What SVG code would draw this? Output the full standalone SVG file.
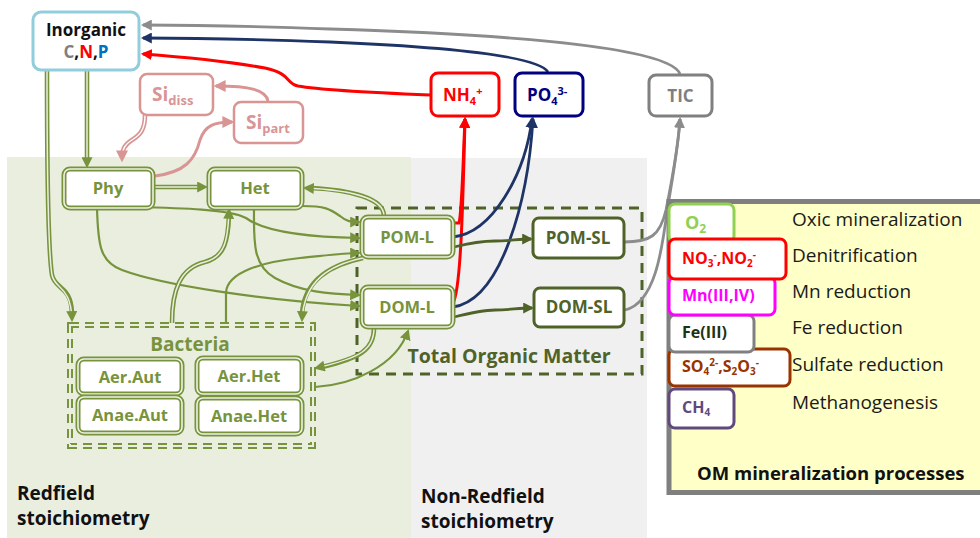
<svg xmlns="http://www.w3.org/2000/svg" width="980" height="538" viewBox="0 0 980 538">
<defs>
<style>
text{font-family:"Open Sans","DejaVu Sans",sans-serif}
.b{font-weight:bold}
.gt{fill:#77933c;font-weight:bold;font-size:16.5px;text-anchor:middle}
.dt{fill:#4f6228;font-weight:bold;font-size:17px;text-anchor:middle}
.gbox-o{fill:#fff;stroke:#77933c;stroke-width:5}
.gbox-i{fill:none;stroke:#eef2e4;stroke-width:1.6}
.dbox{fill:#fff;stroke:#4f6228;stroke-width:3}
.g{fill:none;stroke:#77933c;stroke-width:2.2}
.dbo{fill:none;stroke:#77933c;stroke-width:4.6}
.dbi{fill:none;stroke:#e9eedf;stroke-width:1.5}
.dk{fill:none;stroke:#4f6228;stroke-width:2.8}
.rd{fill:none;stroke:#ff0000;stroke-width:3}
.nv{fill:none;stroke:#1f3466;stroke-width:2.8}
.gy{fill:none;stroke:#8c8c8c;stroke-width:2.8}
.pk{fill:none;stroke:#d99594;stroke-width:3}
.pko{fill:none;stroke:#d99594;stroke-width:4.6}
.pki{fill:none;stroke:#fff;stroke-width:1.4}
.lab{fill:#fff;stroke-width:3}
.proc{font-size:19px;fill:#1a1a1a}
.mt{font-weight:bold;font-size:16px}
.bs{font-size:16.5px}
</style>
<marker id="ag" viewBox="0 0 10 10" refX="8" refY="5" markerWidth="11" markerHeight="11" markerUnits="userSpaceOnUse" orient="auto"><path d="M0,0 L10,5 L0,10 z" fill="#77933c"/></marker>
<marker id="ad" viewBox="0 0 10 10" refX="8" refY="5" markerWidth="11" markerHeight="11" markerUnits="userSpaceOnUse" orient="auto"><path d="M0,0 L10,5 L0,10 z" fill="#4f6228"/></marker>
<marker id="ar" viewBox="0 0 10 10" refX="8" refY="5" markerWidth="11" markerHeight="11" markerUnits="userSpaceOnUse" orient="auto"><path d="M0,0 L10,5 L0,10 z" fill="#ff0000"/></marker>
<marker id="an" viewBox="0 0 10 10" refX="8" refY="5" markerWidth="11" markerHeight="11" markerUnits="userSpaceOnUse" orient="auto"><path d="M0,0 L10,5 L0,10 z" fill="#1f3466"/></marker>
<marker id="ay" viewBox="0 0 10 10" refX="8" refY="5" markerWidth="11" markerHeight="11" markerUnits="userSpaceOnUse" orient="auto"><path d="M0,0 L10,5 L0,10 z" fill="#8c8c8c"/></marker>
<marker id="ap" viewBox="0 0 10 10" refX="8" refY="5" markerWidth="12" markerHeight="12" markerUnits="userSpaceOnUse" orient="auto"><path d="M0,0 L10,5 L0,10 z" fill="#d99594"/></marker>
</defs>
<rect width="980" height="538" fill="#fff"/>
<g id="backgrounds">
<rect x="7" y="157" width="404" height="381" fill="#e9eedf"/>
<rect x="411" y="158" width="236" height="380" fill="#f0f0f0"/>
<text x="17" y="500" class="b" font-size="19" fill="#111">Redfield</text>
<text x="17" y="525" class="b" font-size="19" fill="#111">stoichiometry</text>
<text x="421" y="503" class="b" font-size="19" fill="#111">Non-Redfield</text>
<text x="421" y="528" class="b" font-size="19" fill="#111">stoichiometry</text>
</g>
<g id="bacteria">
<rect x="70" y="325" width="243" height="121" fill="none" stroke="#77933c" stroke-width="6" stroke-dasharray="9 6"/>
<rect x="70" y="325" width="243" height="121" fill="none" stroke="#e9eedf" stroke-width="2" stroke-dasharray="9 6"/>
<text x="190" y="351" class="gt" style="font-size:19px">Bacteria</text>
</g>
<g id="total-organic-matter">
<rect x="357" y="208" width="285" height="166" fill="none" stroke="#4f6228" stroke-width="3" stroke-dasharray="10 7"/>
<text x="509" y="363" class="dt" style="font-size:19.5px">Total Organic Matter</text>
</g>
<g id="connectors">
<path class="gy" d="M680,74 C672,52 560,36 330,29 C250,26 180,25 143,25" marker-end="url(#ay)"/>
<path class="nv" d="M548,72 C540,58 470,48 330,42 C250,39 180,38 143,38" marker-end="url(#an)"/>
<path class="rd" d="M430,95 C380,93 320,90 298,86 C285,83 292,74 265,68 C220,60 170,56 143,54" marker-end="url(#ar)"/>
<path class="rd" d="M453,223 L459,223 C462,212 463,160 465,119" marker-end="url(#ar)"/>
<path class="rd" d="M453,303 C461,290 463,200 465,119" marker-end="url(#ar)"/>
<path class="nv" d="M453,237 C492,233 525,175 532,119" marker-end="url(#an)"/>
<path class="nv" d="M453,307 C502,300 528,200 533,119" marker-end="url(#an)"/>
<path class="gy" d="M624,242 C650,242 660,236 666,210 C672,180 678,150 680,119" marker-end="url(#ay)"/>
<path class="gy" d="M625,310 C655,303 662,250 667,212 C672,180 678,150 680,119"/>
<path class="dk" d="M454,247 C470,243 482,241 495,241 C510,241 518,239 531,239" marker-end="url(#ad)"/>
<path class="dk" d="M454,317 C470,313 482,310 495,310 C510,310 518,308 532,308" marker-end="url(#ad)"/>
<path class="pk" d="M268,101 C266,90 250,86 216,86" marker-end="url(#ap)"/>
<path class="pk" d="M155,176 C185,172 195,160 200,140 C205,125 215,122 232,122" marker-end="url(#ap)"/>
<path class="pko" d="M145,115 C145,130 140,135 132,140 C124,145 122,150 122,158"/>
<path class="pki" d="M145,115 C145,130 140,135 132,140 C124,145 122,150 122,160" marker-end="url(#ap)"/>
<path class="g" d="M133,207 C180,208 230,209 246,218 C262,230 300,237 359,238" marker-end="url(#ag)"/>
<path class="g" d="M302,206 C325,206 330,209 340,216 C346,221 350,222 359,222" marker-end="url(#ag)"/>
<path class="g" d="M226,323 L226,292 C228,272 262,262 300,258 C330,255 345,253 359,253" marker-end="url(#ag)"/>
<path class="g" d="M254,209 C254,240 252,265 275,278 C300,292 330,294 359,295" marker-end="url(#ag)"/>
<path class="g" d="M97,208 C98,245 100,262 122,270 C162,285 260,300 359,306" marker-end="url(#ag)"/>
<path class="g" d="M315,387 C352,385 396,366 408,331" marker-end="url(#ag)"/>
<path class="dbo" d="M87,70 L87,160"/>
<path class="dbi" d="M87,70 L87,166" marker-end="url(#ag)"/>
<path class="dbo" d="M47,70 C47,150 48,250 52,275 C55,290 71,285 72,313"/>
<path class="dbi" d="M47,70 C47,150 48,250 52,275 C55,290 71,285 72,320" marker-end="url(#ag)"/>
<path class="dbo" d="M154,187 L200,187"/>
<path class="dbi" d="M154,187 L206,187" marker-end="url(#ag)"/>
<path class="dbo" d="M384,216 C384,198 350,190 311,188"/>
<path class="dbi" d="M384,216 C384,198 350,190 305,188" marker-end="url(#ag)"/>
<path class="dbo" d="M172,323 C172,290 180,268 205,262 C225,257 228,240 229,216"/>
<path class="dbi" d="M172,323 C172,290 180,268 205,262 C225,257 228,240 229,210" marker-end="url(#ag)"/>
<path class="dbo" d="M363,258 C330,265 304,280 302,314"/>
<path class="dbi" d="M363,258 C330,265 304,280 302,320" marker-end="url(#ag)"/>
<path class="dbo" d="M374,328 C374,350 360,358 322,367"/>
<path class="dbi" d="M374,328 C374,350 360,358 316,368" marker-end="url(#ag)"/>
</g>
<g id="inorganic">
<rect x="33" y="12" width="106" height="58" rx="8" fill="#fff" stroke="#92cddc" stroke-width="3"/>
<text x="86" y="36" text-anchor="middle" class="b" font-size="17" fill="#111">Inorganic</text>
<text x="86" y="58" text-anchor="middle" class="b" font-size="17" fill="#111"><tspan fill="#7f7f7f">C</tspan>,<tspan fill="#ff0000">N</tspan>,<tspan fill="#0070c0">P</tspan></text>
</g>
<g id="si-diss">
<rect x="140" y="74" width="73" height="41" rx="7" fill="#fff" stroke="#d99594" stroke-width="2.5"/>
<text x="152" y="101" class="b" font-size="19" fill="#d99594">Si<tspan font-size="13" dy="4">diss</tspan></text>
</g>
<g id="si-part">
<rect x="234" y="102" width="69" height="41" rx="7" fill="#fff" stroke="#d99594" stroke-width="2.5"/>
<text x="246" y="129" class="b" font-size="19" fill="#d99594">Si<tspan font-size="13" dy="4">part</tspan></text>
</g>
<g id="phy">
<rect class="gbox-o" x="64" y="169" width="89" height="39" rx="6"/>
<rect class="gbox-i" x="64" y="169" width="89" height="39" rx="6"/>
<text x="108" y="194" class="gt">Phy</text>
</g>
<g id="het">
<rect class="gbox-o" x="209" y="169" width="93" height="39" rx="6"/>
<rect class="gbox-i" x="209" y="169" width="93" height="39" rx="6"/>
<text x="255" y="194" class="gt">Het</text>
</g>
<g id="pom-l">
<rect class="gbox-o" x="362" y="217" width="91" height="40" rx="6"/>
<rect class="gbox-i" x="362" y="217" width="91" height="40" rx="6"/>
<text x="407" y="243" class="gt">POM-L</text>
</g>
<g id="dom-l">
<rect class="gbox-o" x="362" y="287" width="91" height="40" rx="6"/>
<rect class="gbox-i" x="362" y="287" width="91" height="40" rx="6"/>
<text x="407" y="313" class="gt">DOM-L</text>
</g>
<g id="pom-sl">
<rect class="dbox" x="533" y="218" width="91" height="40" rx="6"/>
<text x="578" y="244" class="dt">POM-SL</text>
</g>
<g id="dom-sl">
<rect class="dbox" x="534" y="288" width="90" height="39" rx="6"/>
<text x="579" y="313" class="dt">DOM-SL</text>
</g>
<g id="aer-aut">
<rect class="gbox-o" x="78" y="359" width="104" height="35" rx="6"/>
<rect class="gbox-i" x="78" y="359" width="104" height="35" rx="6"/>
<text x="130" y="383" class="gt bs">Aer.Aut</text>
</g>
<g id="aer-het">
<rect class="gbox-o" x="197" y="358" width="105" height="36" rx="6"/>
<rect class="gbox-i" x="197" y="358" width="105" height="36" rx="6"/>
<text x="249" y="382" class="gt bs">Aer.Het</text>
</g>
<g id="anae-aut">
<rect class="gbox-o" x="78" y="397" width="104" height="36" rx="6"/>
<rect class="gbox-i" x="78" y="397" width="104" height="36" rx="6"/>
<text x="130" y="421" class="gt bs">Anae.Aut</text>
</g>
<g id="anae-het">
<rect class="gbox-o" x="197" y="398" width="105" height="36" rx="6"/>
<rect class="gbox-i" x="197" y="398" width="105" height="36" rx="6"/>
<text x="249" y="422" class="gt bs">Anae.Het</text>
</g>
<g id="nh4">
<rect x="431" y="73" width="68" height="43" rx="7" fill="#fff" stroke="#ff0000" stroke-width="3"/>
<text x="443" y="101" class="b" font-size="17" fill="#ff0000">NH<tspan font-size="11" dy="4">4</tspan><tspan font-size="11" dy="-10">+</tspan></text>
</g>
<g id="po4">
<rect x="515" y="73" width="68" height="43" rx="7" fill="#fff" stroke="#000080" stroke-width="3"/>
<text x="527" y="101" class="b" font-size="17" fill="#000080">PO<tspan font-size="11" dy="4">4</tspan><tspan font-size="11" dy="-10">3-</tspan></text>
</g>
<g id="tic">
<rect x="649" y="75" width="63" height="41" rx="7" fill="#fff" stroke="#808080" stroke-width="3"/>
<text x="680.5" y="102" text-anchor="middle" class="b" font-size="17" fill="#7f7f7f">TIC</text>
</g>
<g id="om-processes">
<rect x="669" y="201.5" width="330" height="291" fill="#ffffc8" stroke="#7f7f7f" stroke-width="5"/>
<text x="697" y="480" class="b" font-size="18.5" fill="#111">OM mineralization processes</text>
<text x="792" y="226" class="proc">Oxic mineralization</text>
<text x="792" y="262" class="proc">Denitrification</text>
<text x="792" y="298" class="proc">Mn reduction</text>
<text x="792" y="334" class="proc">Fe reduction</text>
<text x="792" y="371" class="proc">Sulfate reduction</text>
<text x="792" y="409" class="proc">Methanogenesis</text>
</g>
<g id="o2">
<rect class="lab" x="669" y="204" width="65" height="38" rx="6" stroke="#92d050"/>
<text x="685" y="229" class="b" font-size="18" fill="#92d050">O<tspan font-size="12" dy="4">2</tspan></text>
</g>
<g id="sulfate">
<rect class="lab" x="669" y="349" width="121" height="37" rx="6" stroke="#993300"/>
<text x="682" y="372" class="mt" fill="#993300">SO<tspan font-size="10" dy="3">4</tspan><tspan font-size="10" dy="-9">2-</tspan><tspan dy="6">,S</tspan><tspan font-size="10" dy="3">2</tspan><tspan dy="-3">O</tspan><tspan font-size="10" dy="3">3</tspan><tspan font-size="10" dy="-9">-</tspan></text>
</g>
<g id="fe">
<rect class="lab" x="669" y="315" width="85" height="37" rx="6" stroke="#808080"/>
<text x="682" y="338" class="mt" fill="#1e3214">Fe(III)</text>
</g>
<g id="mn">
<rect class="lab" x="669" y="277" width="106" height="38" rx="6" stroke="#ff00ff"/>
<text x="682" y="301" class="mt" fill="#ff00ff">Mn(III,IV)</text>
</g>
<g id="no3">
<rect class="lab" x="669" y="239" width="117" height="40" rx="6" stroke="#ff0000"/>
<text x="682" y="264" class="mt" fill="#ff0000">NO<tspan font-size="10" dy="3">3</tspan><tspan font-size="10" dy="-9">-</tspan><tspan dy="6">,NO</tspan><tspan font-size="10" dy="3">2</tspan><tspan font-size="10" dy="-9">-</tspan></text>
</g>
<g id="ch4">
<rect class="lab" x="669" y="389" width="65" height="39" rx="6" stroke="#604a7b"/>
<text x="682" y="413" class="mt" fill="#604a7b">CH<tspan font-size="10" dy="3">4</tspan></text>
</g>
</svg>
